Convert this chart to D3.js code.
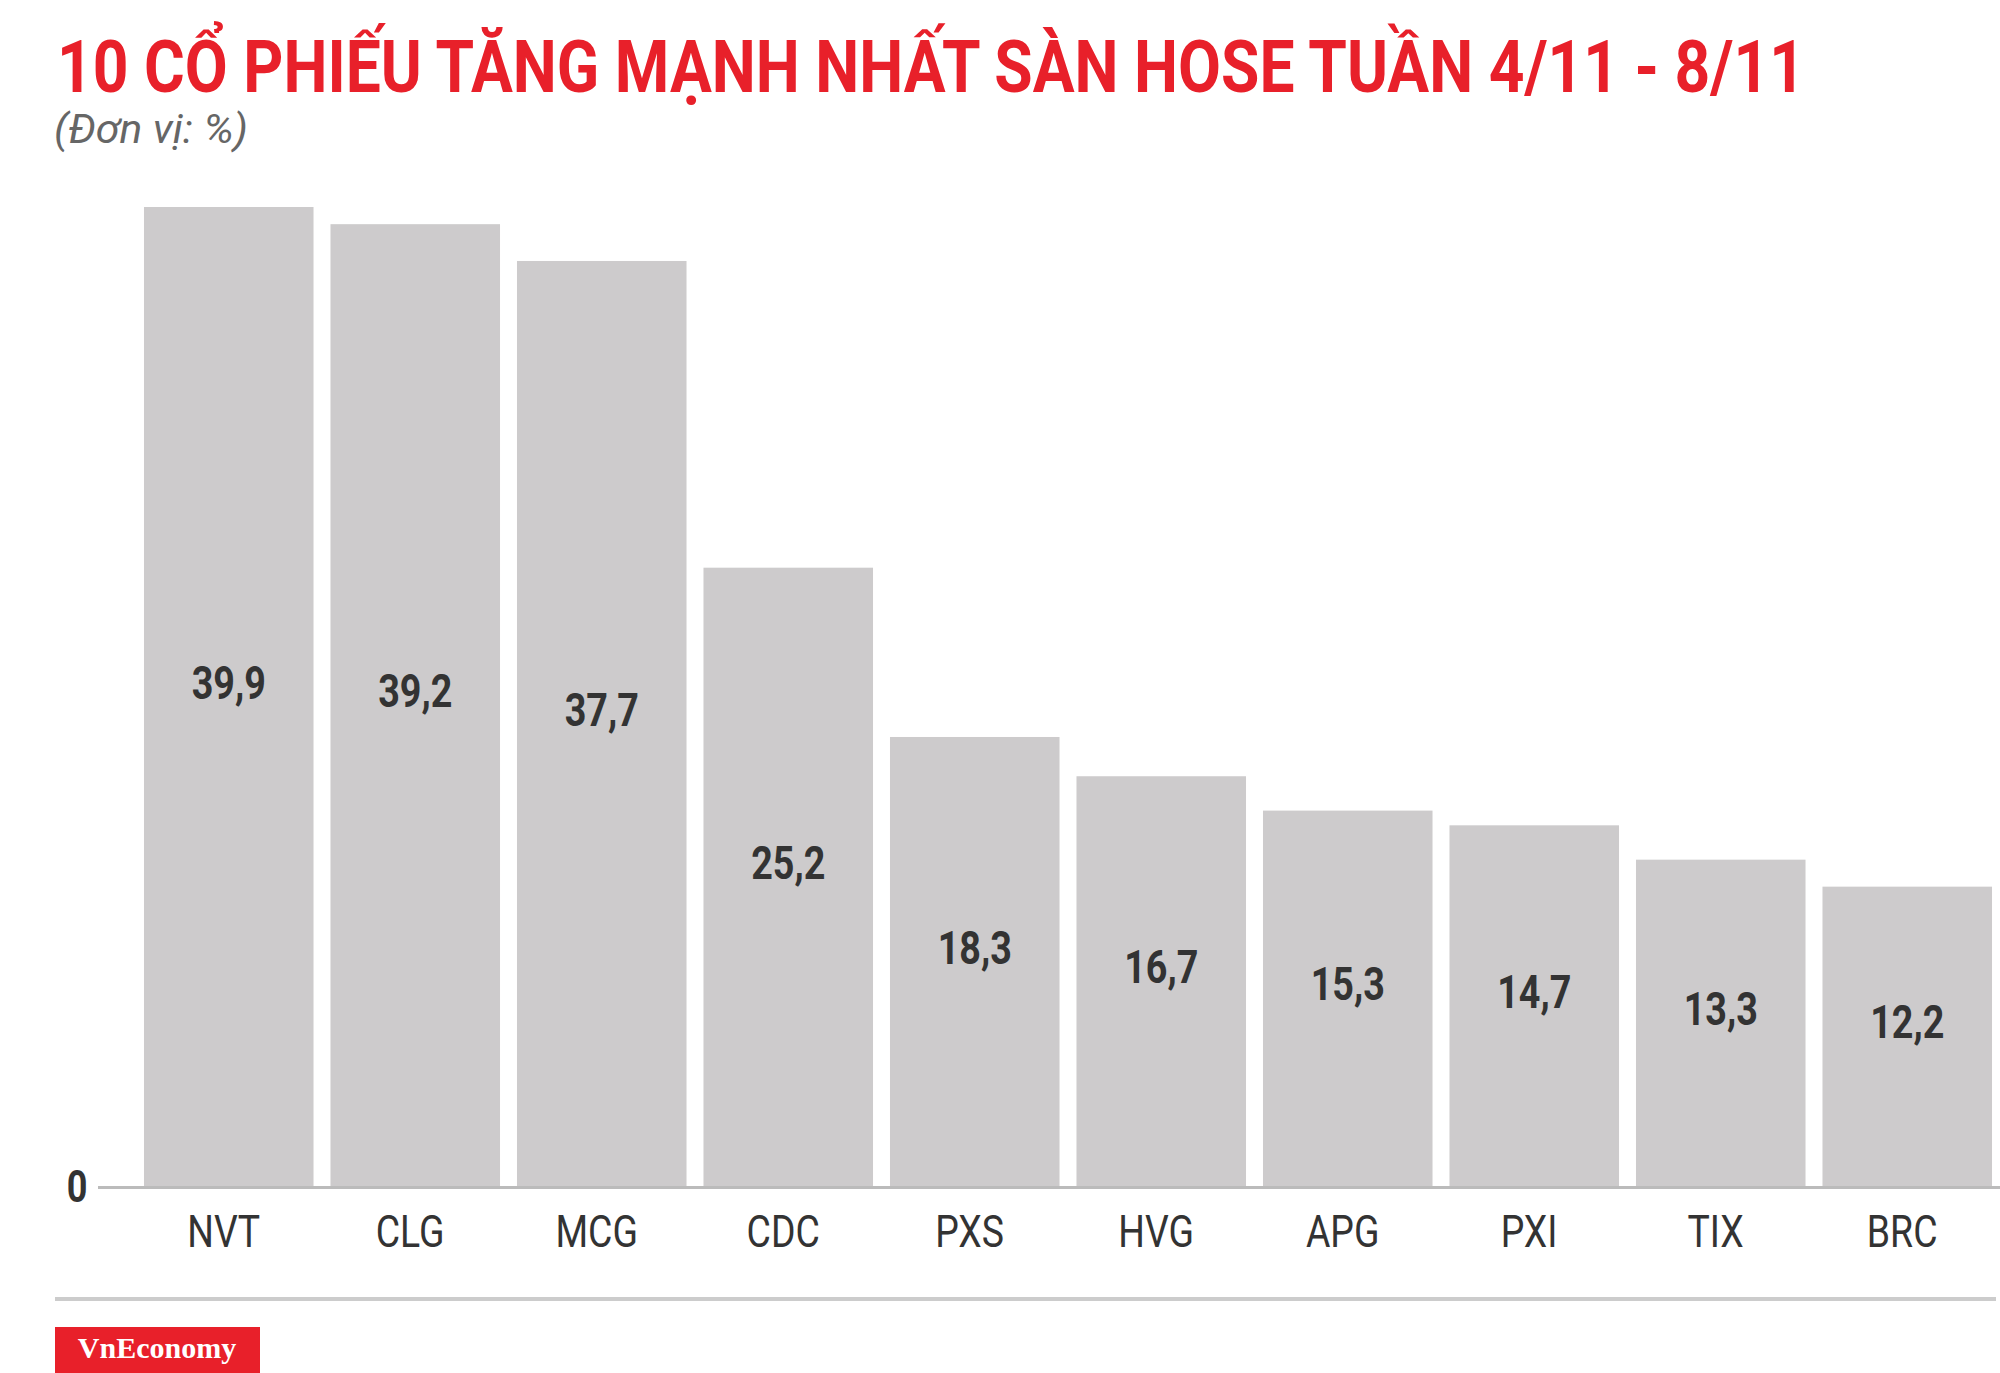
<!DOCTYPE html>
<html><head><meta charset="utf-8">
<script src="https://cdn.jsdelivr.net/npm/d3@7"></script>
<style>body{margin:0;background:#fff}</style></head>
<body><svg id="c" width="2000" height="1373"></svg>
<script>
const categories=["NVT","CLG","MCG","CDC","PXS","HVG","APG","PXI","TIX","BRC"];
const values=[39.9,39.2,37.7,25.2,18.3,16.7,15.3,14.7,13.3,12.2];
const labels=["39,9","39,2","37,7","25,2","18,3","16,7","15,3","14,7","13,3","12,2"];
const svg=d3.select("#c");
const x=d3.scaleBand().domain(categories).range([135.5,2000.5]).paddingInner(0.091).paddingOuter(0.0455);
const y=d3.scaleLinear().domain([0,39.9]).range([1186,207]);
const cond="Roboto, 'Liberation Sans', sans-serif";
svg.append("text").attr("x",57).attr("y",92).attr("fill","#e8202a").attr("font-family",cond)
 .attr("font-weight",700).attr("font-size",72).attr("textLength",1748).attr("lengthAdjust","spacingAndGlyphs")
 .text("10 CỔ PHIẾU TĂNG MẠNH NHẤT SÀN HOSE TUẦN 4/11 - 8/11");
svg.append("text").attr("x",54).attr("y",143).attr("fill","#666").attr("font-family",cond)
 .attr("font-style","italic").attr("font-size",40).attr("textLength",194).attr("lengthAdjust","spacingAndGlyphs").text("(Đơn vị: %)");
const g=svg.append("g");
g.selectAll("rect").data(values).join("rect").attr("x",(d,i)=>x(categories[i])).attr("width",x.bandwidth())
 .attr("y",d=>y(d)).attr("height",d=>y(0)-y(d)).attr("fill","#cdcbcc");
g.selectAll("text.v").data(values).join("text").attr("class","v")
 .attr("transform",(d,i)=>`translate(${x(categories[i])+x.bandwidth()/2},${(y(d)+y(0))/2-14}) scale(0.82,1)`)
 .attr("text-anchor","middle").attr("dy","0.35em").attr("font-family",cond).attr("font-weight",700)
 .attr("font-size",46).attr("fill","#333").text((d,i)=>labels[i]);
svg.append("line").attr("x1",98).attr("x2",2000).attr("y1",y(0)+1.5).attr("y2",y(0)+1.5).attr("stroke","#bbb").attr("stroke-width",3);
svg.append("text").attr("transform",`translate(77,${y(0)+16}) scale(0.82,1)`).attr("text-anchor","middle")
 .attr("font-family",cond).attr("font-weight",700).attr("font-size",44).attr("fill","#333").text("0");
const ax=svg.append("g").attr("transform",`translate(0,${y(0)})`).call(d3.axisBottom(x).tickSize(0).tickPadding(30));
ax.select(".domain").remove();
ax.selectAll("text").attr("font-family",cond).attr("font-size",44).attr("fill","#333").attr("x",-6);
ax.selectAll(".tick").attr("transform",d=>`translate(${x(d)+x.bandwidth()/2},0) scale(0.85,1)`);
svg.append("line").attr("x1",55).attr("x2",1996).attr("y1",1299).attr("y2",1299).attr("stroke","#ccc").attr("stroke-width",4);
svg.append("rect").attr("x",55).attr("y",1327).attr("width",205).attr("height",46).attr("fill","#e8202a");
svg.append("text").attr("x",157).attr("y",1358).attr("text-anchor","middle").attr("fill","#fff")
 .attr("font-family","'Liberation Serif', serif").attr("font-weight",700).attr("font-size",30).text("VnEconomy");
</script></body></html>
